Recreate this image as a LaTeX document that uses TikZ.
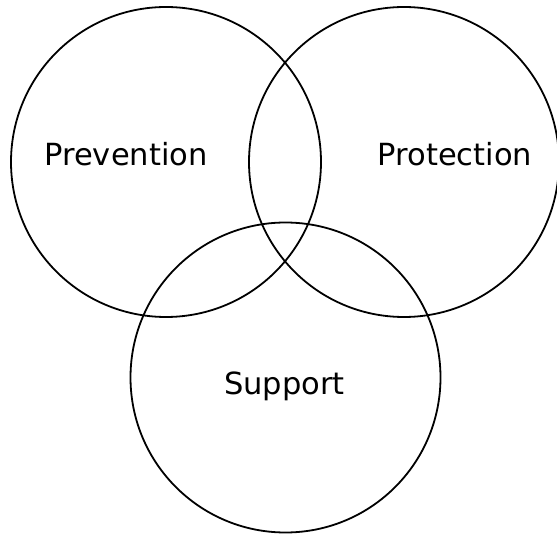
\documentclass[tikz,border=0pt]{standalone}
\usepackage{fontspec}
\setmainfont{DejaVu Sans}
\begin{document}
\begin{tikzpicture}[x=1pt,y=-1pt,
  ring/.style={circle,draw=black,line width=1.8pt,inner sep=0pt,minimum size=310pt},
  lbl/.style={anchor=base,inner sep=0pt,font=\fontsize{30.5}{36}\selectfont}]
\useasboundingbox (0,0) rectangle (557,534);
\node[ring] (prev) at (166,162) {};
\node[ring] (prot) at (404,162) {};
\node[ring] (supp) at (285.5,377.5) {};
\node[lbl] (tprev) at (126,166) {Prevention};
\node[lbl] (tprot) at (455,166) {Protection};
\node[lbl] (tsupp) at (284.5,395) {Support};
\end{tikzpicture}
\end{document}
